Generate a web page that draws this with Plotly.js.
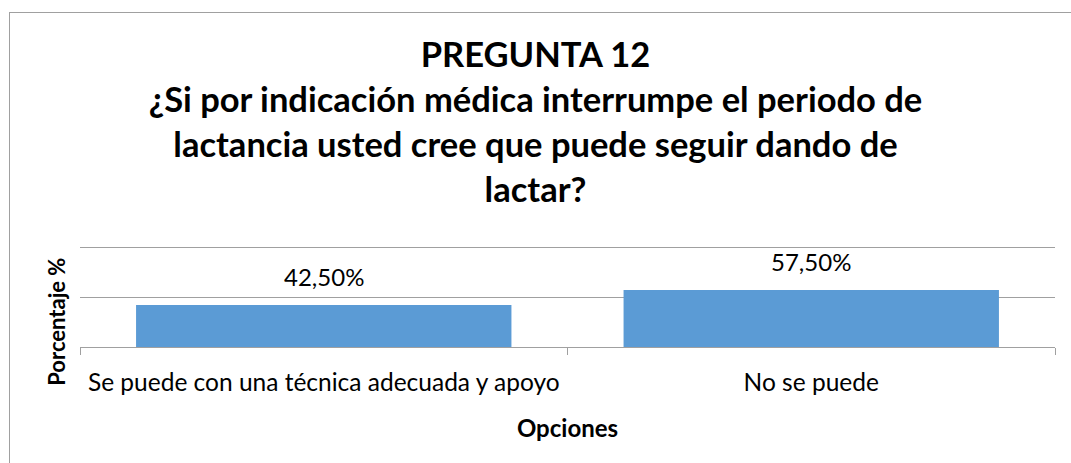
<!DOCTYPE html>
<html>
<head>
<meta charset="utf-8">
<script src="https://cdn.plot.ly/plotly-3.0.1.min.js"></script>
<style>
  html, body { margin: 0; padding: 0; background: #fff; }
  #wrap { position: relative; width: 1071px; height: 463px; overflow: hidden; }
  #frame { position: absolute; left: 9px; top: 12px; width: 1100px; height: 500px; border: 1px solid #a0a0a0; box-sizing: border-box; }
  #chart { position: absolute; left: 0; top: 0; width: 1071px; height: 463px; }
</style>
</head>
<body>
<div id="wrap">
  <div id="frame"></div>
  <div id="chart"></div>
</div>
<script>
const categories = ["Se puede con una técnica adecuada y apoyo", "No se puede"];
const values = [0.425, 0.575];
const valueLabels = ["42,50%", "57,50%"];
const titleLines = ["PREGUNTA 12", "¿Si por indicación médica interrumpe el periodo de", "lactancia usted cree que puede seguir dando de", "lactar?"];
const xTitle = "Opciones";
const yTitle = "Porcentaje %";

const FONT = "Lato, 'Open Sans', sans-serif";

const data = [{
  type: "bar",
  x: categories,
  y: values,
  marker: { color: "#5b9bd5" },
  hoverinfo: "skip"
}];

const labelAnnotations = categories.map((c, i) => ({
  x: c, y: values[i], xref: "x", yref: "y",
  text: valueLabels[i], showarrow: false,
  yanchor: "bottom", yshift: 12,
  font: { family: FONT, size: 24, color: "#000" }
}));

const layout = {
  width: 1071,
  height: 463,
  paper_bgcolor: "rgba(0,0,0,0)",
  plot_bgcolor: "rgba(0,0,0,0)",
  margin: { l: 80, r: 16, t: 246, b: 116 },
  bargap: 0.23,
  showlegend: false,
  font: { family: FONT, color: "#000" },
  title: {
    text: titleLines.join("<br>"),
    font: { family: FONT, size: 34.5, weight: "bold", color: "#000" },
    x: 0.5,
    xanchor: "center",
    xref: "container",
    yref: "container",
    y: 0.855,
    yanchor: "top"
  },
  xaxis: {
    type: "category",
    showline: true,
    linecolor: "#a0a0a0",
    linewidth: 1,
    ticks: "outside",
    tickson: "boundaries",
    ticklen: 7,
    tickcolor: "#a0a0a0",
    tickangle: 0,
    ticklabelstandoff: 14,
    tickfont: { family: FONT, size: 24.5, color: "#000" },
    showgrid: false,
    title: { text: xTitle, font: { family: FONT, size: 24, weight: "bold", color: "#000" }, standoff: 24 }
  },
  yaxis: {
    range: [0, 1.02],
    tick0: 0,
    dtick: 0.5,
    showticklabels: false,
    showline: false,
    zeroline: false,
    showgrid: true,
    gridcolor: "#a0a0a0",
    gridwidth: 1,
    ticks: ""
  },
  annotations: labelAnnotations.concat([{
    text: yTitle, textangle: -90, showarrow: false,
    xref: "paper", yref: "paper", x: -0.0236, y: 0.25,
    xanchor: "center", yanchor: "middle",
    font: { family: FONT, size: 22, weight: "bold", color: "#000" }
  }])
};

Plotly.newPlot("chart", data, layout, { displayModeBar: false, staticPlot: true });
</script>
</body>
</html>
